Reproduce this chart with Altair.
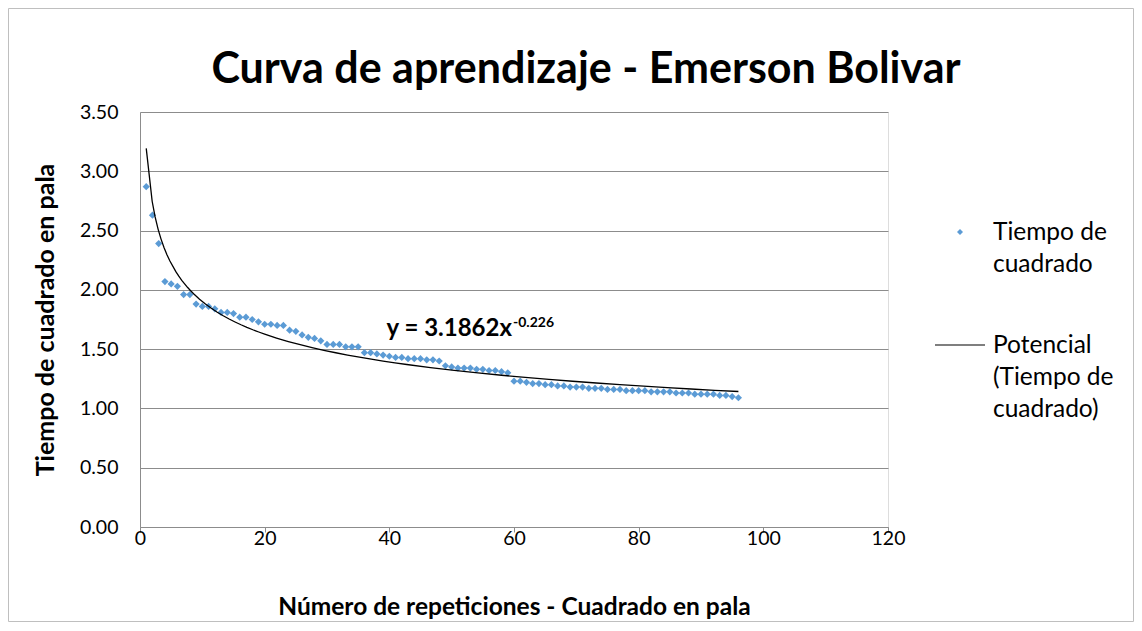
import altair as alt
import pandas as pd

repeticiones = list(range(1, 97))
tiempos = [
    2.87, 2.63, 2.39, 2.07, 2.05, 2.03, 1.96, 1.96, 1.88, 1.86,
    1.86, 1.84, 1.81, 1.81, 1.80, 1.77, 1.77, 1.75, 1.73, 1.71,
    1.71, 1.70, 1.70, 1.66, 1.65, 1.62, 1.60, 1.59, 1.57, 1.54,
    1.54, 1.54, 1.52, 1.52, 1.52, 1.47, 1.47, 1.46, 1.45, 1.44,
    1.43, 1.43, 1.42, 1.42, 1.42, 1.41, 1.41, 1.40, 1.36, 1.35,
    1.34, 1.34, 1.34, 1.33, 1.33, 1.32, 1.32, 1.31, 1.30, 1.23,
    1.23, 1.22, 1.21, 1.21, 1.20, 1.20, 1.19, 1.19, 1.18, 1.18,
    1.18, 1.17, 1.17, 1.17, 1.16, 1.16, 1.16, 1.15, 1.15, 1.15,
    1.15, 1.14, 1.14, 1.14, 1.14, 1.13, 1.13, 1.13, 1.12, 1.12,
    1.12, 1.12, 1.11, 1.11, 1.10, 1.09,
]
titulo = "Curva de aprendizaje - Emerson Bolivar"
eje_x = "Número de repeticiones - Cuadrado en pala"
eje_y = "Tiempo de cuadrado en pala"
ecuacion = "y = 3.1862x"
exponente = "-0.226"
leyenda_puntos = ["Tiempo de", "cuadrado"]
leyenda_linea = ["Potencial", "(Tiempo de", "cuadrado)"]

df = pd.DataFrame({"x": repeticiones, "y": tiempos})

FONT = "Lato"
W, H = 748, 415
GRAY = "#8c8c8c"
BLUE = "#5B9BD5"

xs = alt.Scale(domain=[0, 120], nice=False)
ys = alt.Scale(domain=[0, 3.5], nice=False)

base = alt.Chart(df)

points = base.mark_point(shape="diamond", filled=True, size=52, color=BLUE, opacity=1).encode(
    x=alt.X("x:Q", scale=xs,
            axis=alt.Axis(values=[0, 20, 40, 60, 80, 100, 120], format="d", title=eje_x,
                          grid=False, domainColor=GRAY, tickColor=GRAY, tickSize=5,
                          labelPadding=-3, labelFlush=False, labelFontSize=19.5, labelFont=FONT,
                          labelColor="#000",
                          titleFont=FONT, titleFontSize=24.5, titleFontWeight="bold", titleColor="#000",
                          titleY=80, titleBaseline="middle")),
    y=alt.Y("y:Q", scale=ys,
            axis=alt.Axis(values=[0, 0.5, 1, 1.5, 2, 2.5, 3, 3.5], format=".2f", title=eje_y,
                          grid=True, gridColor=GRAY, domainColor=GRAY, ticks=False,
                          labelPadding=22, labelFlush=False, labelFontSize=19.5, labelFont=FONT,
                          labelColor="#000",
                          titleFont=FONT, titleFontSize=25, titleFontWeight="bold", titleColor="#000",
                          titleX=-95, titleY=H / 2, titleBaseline="middle")),
)

trend = base.transform_regression("x", "y", method="pow", extent=[1, 96]).mark_line(
    color="#000", strokeWidth=1.3
).encode(x=alt.X("x:Q", scale=xs), y=alt.Y("y:Q", scale=ys))


def txt(text, x, y, size=20, weight="normal", align="left", baseline="middle"):
    return alt.Chart(df.head(1)).mark_text(
        font=FONT, fontSize=size, fontWeight=weight, align=align, baseline=baseline, color="#000"
    ).encode(x=alt.value(x), y=alt.value(y), text=alt.value(text))


layers = [points, trend]
layers.append(txt(titulo, 446, -42, size=43, weight="bold", align="center"))
layers.append(txt(ecuacion, 372, 224, size=24, weight="bold", align="right", baseline="alphabetic"))
layers.append(txt(exponente, 373, 215, size=14, weight="bold", align="left", baseline="alphabetic"))

# legend
layers.append(alt.Chart(df.head(1)).mark_point(shape="diamond", filled=True, size=36, color=BLUE, opacity=1)
              .encode(x=alt.value(820), y=alt.value(120)))
for i, t in enumerate(leyenda_puntos):
    layers.append(txt(t, 853, 121 + 32 * i, size=24.5))
layers.append(alt.Chart(df.head(1)).mark_rule(color="#000", strokeWidth=1.2)
              .encode(x=alt.value(795), x2=alt.value(845), y=alt.value(233)))
for i, t in enumerate(leyenda_linea):
    layers.append(txt(t, 853, 234 + 32 * i, size=24.5))

# outer border
layers.append(alt.Chart(df.head(1)).mark_rect(fill=None, stroke="#bfbfbf", strokeWidth=1)
              .encode(x=alt.value(-131.5), x2=alt.value(W + 245.5), y=alt.value(-103.5), y2=alt.value(H + 94.5)))

chart = alt.layer(*layers).properties(
    width=W, height=H,
    autosize=alt.AutoSizeParams(type="none"),
    padding={"left": 132, "top": 104, "right": 246, "bottom": 96},
).configure_view(stroke=None).configure(background="white")

chart.save("out.html", embed_options={"renderer": "svg", "actions": False})
